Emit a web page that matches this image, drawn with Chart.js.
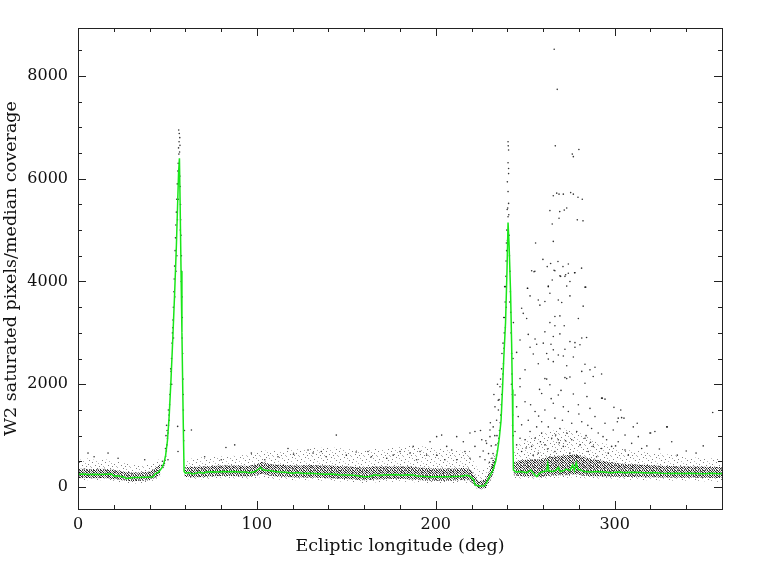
<!DOCTYPE html>
<html>
<head>
<meta charset="utf-8">
<script src="https://cdn.jsdelivr.net/npm/chart.js@4.4.1/dist/chart.umd.min.js"></script>
<style>
  html, body { margin: 0; padding: 0; background: #fff; }
  #wrap { width: 768px; height: 574px; }
</style>
</head>
<body>
<div id="wrap"><canvas id="chart" width="768" height="574"></canvas></div>
<script>
// axis ticks
const xMajor = [0, 100, 200, 300];
const yMajor = [0, 2000, 4000, 6000, 8000];

// running median (green line), ecliptic longitude vs value
const medLon = [0, 3, 6, 9, 12, 15, 18, 19, 20, 22, 24, 26, 27, 29, 31, 34, 37, 40, 42, 43, 44, 45, 46, 47, 48, 49, 50, 51, 52, 53, 54, 55, 55.6, 56.2, 56.7, 57.1, 57.6, 58.1, 58.6, 59.0, 59.3,
  60, 62, 64, 66, 68, 70, 72, 75, 78, 81, 84, 87, 90, 93, 96, 99, 101, 102, 103, 105, 107, 110, 113, 116, 120, 123, 126, 130, 134, 138, 142, 146, 150, 154, 157, 160, 163, 166, 168, 170, 174, 178, 181, 184, 187, 190, 194, 198, 202, 206, 210, 214, 217, 219,
  221, 222, 224, 227, 228, 230, 232, 233.5, 234.5, 235.5, 236.5, 237.3, 238, 239, 239.8, 240.4, 241, 241.8, 242.4, 242.8, 243.1, 243.4,
  245, 247, 249, 251, 253, 255, 256.5, 258, 260, 262, 262.6, 263.2, 265, 267, 268.5, 269.5, 271, 273, 275, 276.5, 277.5, 278.5, 279.5, 281, 283, 286, 290, 294, 298, 302, 306, 310, 314, 318, 322, 326, 330, 334, 338, 342, 346, 350, 354, 358, 360];
const medVal = [250, 255, 245, 250, 245, 250, 255, 250, 215, 220, 205, 190, 165, 175, 185, 185, 190, 195, 200, 250, 270, 290, 330, 380, 460, 620, 900, 1400, 2100, 2900, 3750, 4700, 5400, 6100, 6400, 5500, 4200, 3000, 1800, 900, 300,
  270, 280, 255, 270, 285, 270, 290, 295, 290, 300, 295, 300, 290, 290, 280, 300, 350, 380, 340, 320, 320, 300, 290, 285, 270, 280, 265, 270, 260, 250, 255, 240, 235, 230, 215, 200, 205, 240, 225, 235, 240, 245, 230, 240, 235, 215, 205, 200, 200, 200, 205, 210, 230, 210,
  150, 40, 20, 25, 60, 200, 330, 500, 700, 950, 1300, 1900, 2500, 3200, 4200, 5150, 4700, 3800, 2800, 1900, 1000, 330,
  290, 300, 290, 280, 330, 250, 200, 270, 300, 310, 450, 310, 300, 320, 380, 300, 310, 350, 320, 430, 320, 470, 340, 330, 300, 290, 300, 290, 280, 290, 280, 285, 280, 275, 280, 270, 265, 270, 265, 270, 265, 260, 270, 260, 265];

// dense band of points around the median (dark core and sparser halo)
const bandLon = [0, 5, 10, 15, 20, 25, 30, 35, 40, 44, 46, 52, 59.5, 65, 70, 75, 80, 85, 90, 95, 100, 103, 106, 110, 115, 120, 125, 130, 135, 140, 145, 150, 155, 160, 165, 170, 175, 180, 185, 190, 195, 200, 205, 210, 215, 219, 221, 224, 228, 231, 233, 238, 243.5, 248, 253, 258, 263, 268, 273, 278, 283, 288, 293, 298, 303, 308, 313, 318, 323, 328, 333, 338, 343, 348, 353, 358, 360];
const innerLo = [170, 175, 170, 175, 150, 130, 110, 120, 130, 190, 240, null, 200, 190, 195, 210, 215, 215, 210, 205, 230, 260, 230, 210, 200, 190, 185, 185, 180, 170, 160, 155, 140, 130, 140, 150, 155, 155, 150, 135, 125, 120, 120, 125, 135, 130, 50, -40, -20, 170, 340, null, 230, 210, 210, 190, 220, 230, 230, 250, 220, 210, 210, 200, 200, 195, 195, 190, 190, 185, 185, 180, 185, 180, 180, 175, 180];
const innerHi = [360, 350, 350, 355, 330, 300, 280, 280, 300, 380, 450, null, 390, 390, 400, 410, 420, 420, 420, 410, 450, 490, 460, 440, 430, 420, 420, 430, 420, 420, 410, 400, 390, 380, 400, 400, 400, 400, 400, 380, 370, 360, 360, 360, 370, 360, 260, 100, 160, 400, 620, null, 480, 520, 540, 540, 580, 600, 620, 640, 580, 540, 510, 480, 460, 450, 440, 430, 420, 410, 410, 400, 400, 400, 390, 390, 390];
const outerLo = [120, 130, 130, 130, 110, 80, 60, 80, 90, 140, 180, null, 150, 150, 150, 160, 170, 170, 160, 160, 170, 200, 170, 150, 140, 130, 130, 130, 120, 120, 110, 100, 90, 80, 90, 100, 100, 100, 100, 90, 80, 80, 80, 80, 90, 80, 20, -60, -40, 100, 250, null, 170, 160, 160, 150, 170, 180, 180, 190, 170, 160, 160, 150, 150, 140, 140, 130, 130, 120, 120, 120, 120, 110, 110, 100, 100];
const outerHi = [520, 560, 520, 540, 500, 480, 430, 420, 440, 500, 560, null, 540, 560, 580, 580, 600, 600, 620, 620, 680, 720, 700, 700, 700, 720, 740, 760, 760, 780, 760, 740, 720, 720, 740, 740, 760, 780, 800, 800, 780, 760, 740, 720, 700, 720, 520, 300, 360, 600, 850, null, 720, 900, 1000, 1050, 1100, 1100, 1150, 1100, 1000, 920, 850, 800, 760, 720, 700, 680, 660, 640, 620, 600, 580, 560, 560, 560, 540];

// individual points away from the band: [longitude, value]
const peakDots = [
  [56.3, 6950], [56.6, 6880], [56.9, 6800], [56.5, 6720], [57.0, 6650], [56.2, 6600], [56.8, 6520], [56.4, 6480], [56.0, 6300], [55.8, 6150], [56.9, 6050], [55.5, 5900], [57.1, 5850], [55.2, 5600], [57.3, 5500], [55.0, 5350], [57.4, 5200], [54.7, 5100], [57.6, 4900], [54.5, 4850], [54.3, 4600], [57.8, 4500], [54.0, 4300], [57.9, 4200], [53.8, 4050], [53.6, 3800], [58.1, 3700], [53.3, 3500], [53.1, 3250], [58.3, 3300], [52.8, 3000], [52.6, 2800], [58.5, 2600], [52.3, 2500], [52.0, 2250], [58.7, 2100], [51.7, 2000], [51.4, 1800], [51.2, 1600], [58.9, 1500], [50.9, 1400], [50.6, 1200], [50.3, 1050], [50.0, 950], [49.7, 820], [49.4, 700], [59.1, 900], [49.0, 600], [48.7, 520], [48.3, 460], [47.9, 420], [47.5, 380], [50.5, 1500], [49.2, 1000], [51.8, 2300], [53.0, 3100], [54.8, 4200], [55.6, 5200], [59.5, 1100], [49.5, 1200], [55.7, 1180], [55.9, 690], [50.3, 530],
  [55.3, 4500], [54.1, 3700], [53.4, 2900], [52.4, 2000], [51.0, 1300], [56.1, 5600], [57.2, 5000], [57.7, 4000], [58.2, 2900], [58.8, 1800], [48.9, 750], [49.8, 1100], [46.8, 420], [47.2, 500],
  [240.4, 6720], [240.5, 6640], [240.7, 6560], [240.4, 6310], [240.7, 6200], [240.7, 6100], [240.0, 5940], [240.4, 5750], [240.7, 5520], [240.2, 5430], [240.4, 5260], [239.9, 5400], [240.8, 5300], [239.7, 5000], [241.0, 4900], [239.5, 4750], [241.2, 4500], [239.3, 4400], [239.2, 4100], [241.5, 4200], [239.0, 3900], [238.8, 3600], [241.7, 3800], [238.6, 3300], [241.9, 3400], [238.3, 3000], [238.1, 2700], [242.1, 3000], [237.8, 2400], [237.5, 2200], [242.4, 2600], [237.2, 2000], [236.9, 1800], [242.6, 2200], [236.6, 1600], [236.3, 1400], [242.8, 1800], [236.0, 1250], [235.6, 1100], [243.0, 1400], [235.2, 950], [234.8, 850], [234.4, 700], [233.9, 620], [233.4, 540], [232.8, 480], [232.2, 420], [231.6, 380], [237.0, 2600], [236.2, 2100], [235.0, 1500], [234.0, 1300], [233.0, 1000], [231.0, 800], [238.5, 3900], [239.6, 4600], [238.0, 3300], [234.5, 2000], [229.5, 650], [228.0, 900], [226.5, 700], [225.0, 1100], [230.5, 1250], [232.5, 1800], [243.3, 1000], [243.2, 2500], [243.4, 3200], [234.9, 1690], [233.1, 1560], [235.9, 1950],
  [239.4, 3500], [238.9, 3100], [237.6, 2800], [236.8, 2300], [235.4, 1700], [234.2, 1000], [233.6, 820], [232.0, 650], [231.4, 560], [230.0, 480], [240.1, 4800], [241.3, 3600], [242.3, 2000], [242.9, 1200]
];
const cloudDots = [
  [266.2, 8520], [267.9, 7740], [266.8, 6640], [280.0, 6570], [276.3, 6480], [276.9, 6430], [265.7, 5670], [267.6, 5720], [268.9, 5700], [271.3, 5700], [275.4, 5730], [276.9, 5700], [279.5, 5640], [281.9, 5600], [263.8, 5380], [269.3, 5360], [271.8, 5390], [273.2, 5430], [268.9, 5230], [279.1, 5200], [282.3, 5180], [265.1, 5120], [255.8, 4750], [265.7, 4780],
  [259.9, 4430], [262.3, 4290], [264.2, 4350], [268.3, 4390], [271.1, 4290], [274.1, 4340], [277.6, 4170], [281.5, 4260], [266.1, 4220], [269.8, 4100], [272.6, 4130], [265.1, 4030], [254.9, 4190], [251.2, 3870], [283.8, 3890], [273.2, 3910], [262.9, 3910],
  [253.6, 4210], [255.4, 4200], [266.6, 4210], [269.4, 4110], [272.2, 4100], [274.1, 4160], [277.8, 4170], [275.0, 4000], [283.4, 3890], [262.9, 3900], [251.4, 3870], [263.8, 3770], [252.7, 3720], [275.0, 3720], [257.3, 3640], [261.0, 3610], [268.5, 3640], [270.4, 3590], [258.2, 3540], [282.4, 3520], [248.0, 3480], [248.9, 3380], [250.8, 3280], [266.6, 3320], [269.4, 3330], [279.7, 3280], [263.8, 3200], [266.6, 3140], [271.8, 3140], [261.0, 3020], [251.7, 2970], [269.4, 2980], [265.7, 2930], [281.6, 2900], [284.3, 2910], [275.0, 2830], [277.8, 2810], [247.1, 2860], [255.5, 2880], [256.4, 2780], [260.1, 2800], [264.4, 2780], [252.7, 2720], [265.7, 2670], [272.2, 2680], [277.8, 2720], [280.6, 2770], [245.2, 2620], [262.0, 2600], [268.5, 2570], [271.3, 2550], [254.5, 2590], [276.9, 2530], [283.4, 2390], [262.9, 2490], [265.7, 2440], [257.3, 2400], [273.2, 2360], [289.0, 2330], [292.7, 2200], [249.9, 2280], [261.0, 2110], [275.0, 2140], [286.2, 2280], [281.6, 2250], [247.1, 2110], [273.2, 2110],
  [262.0, 2100], [272.2, 2130], [288.0, 2150], [263.8, 1990], [283.4, 2020], [247.1, 1950], [244.3, 1790], [259.2, 1820], [268.5, 1790], [276.9, 1810], [292.7, 1730], [294.6, 1710], [249.9, 1660], [265.7, 1630], [279.7, 1600], [271.3, 1560], [286.2, 1530], [245.2, 1560], [255.5, 1470], [261.0, 1500], [274.1, 1470], [302.0, 1340], [303.9, 1350], [289.0, 1370], [246.1, 1370], [251.7, 1300], [259.2, 1270], [266.6, 1340], [281.6, 1270], [276.0, 1240], [294.6, 1240], [310.4, 1170], [248.0, 1210], [256.4, 1170], [262.9, 1170], [269.4, 1140], [287.1, 1140], [299.2, 1110], [244.3, 1080], [252.7, 1080], [259.2, 1050], [273.2, 1050], [278.8, 1080], [290.8, 1050], [305.8, 1010], [313.2, 980],
  [247.1, 950], [249.9, 920], [255.5, 950], [264.8, 950], [268.5, 920], [276.0, 920], [283.4, 950], [295.5, 920], [302.0, 880], [309.5, 850], [245.2, 820], [253.6, 790], [261.0, 820], [271.3, 790], [280.6, 820], [288.0, 790], [292.7, 750], [298.3, 790], [305.8, 720], [315.1, 750], [248.0, 690], [257.3, 660], [266.6, 690], [275.0, 660], [285.2, 690], [296.4, 660], [307.6, 620], [254.5, 620], [263.8, 590], [278.8, 590], [289.9, 590],
  [258.0, 1900], [264.5, 1720], [270.0, 1880], [284.5, 1760], [253.0, 1600], [257.5, 1380], [270.8, 1300], [280.0, 1420], [285.0, 1200], [267.0, 1010], [258.5, 880], [272.5, 900], [284.0, 1000], [293.5, 980], [250.5, 760], [262.5, 740], [269.0, 860], [286.5, 870], [300.5, 800],
  [329.4, 1170], [320.1, 1050], [312.6, 1240], [305.2, 1340], [301.5, 1270], [293.1, 1730], [299.6, 1550], [303.4, 1500], [354.8, 1450], [329.1, 1170], [322.5, 1080], [319.7, 1050], [331.9, 880], [349.5, 800], [340.0, 700], [345.5, 660], [335.0, 620], [325.0, 740], [318.0, 800]
];
const fieldDots = [
  [200.5, 980], [203.3, 1010], [219.1, 1050], [221.9, 1080], [196.8, 880], [211.7, 980], [215.4, 880], [187.4, 790], [191.2, 690], [206.1, 790], [208.9, 720], [225.7, 920], [228.4, 850], [230.3, 980], [230.3, 1110], [232.1, 1170], [180.0, 690], [176.2, 620], [185.6, 660], [194.9, 620], [200.5, 620], [216.3, 690], [221.9, 790], [224.7, 590], [227.5, 530], [219.1, 560], [172.6, 560], [189.3, 530], [205.1, 530], [211.7, 530],
  [128.6, 720], [131.4, 660], [136.0, 690], [138.8, 590], [117.4, 750], [162.1, 690], [164.0, 590], [96.9, 660], [87.6, 820], [82.7, 770], [63.4, 1110], [5.6, 660], [16.8, 660], [22.4, 560], [37.3, 530], [70.8, 590], [80.1, 530], [111.8, 590], [104.4, 530], [144.4, 1010], [150.0, 620], [155.5, 680], [120.5, 640], [9.0, 590]
];

function pts(xs, ys) {
  return xs.map((x, i) => ({ x: x, y: ys[i] }));
}
function pairs(list) {
  return list.map(p => ({ x: p[0], y: p[1] }));
}

// stipple fills so the band looks like a cloud of dots, not a solid strip
function stipple(w, h, dots, shade) {
  const c = document.createElement('canvas');
  c.width = w; c.height = h;
  const g = c.getContext('2d');
  dots.forEach(d => {
    g.fillStyle = 'rgba(0,0,0,' + (d[2] || shade) + ')';
    g.fillRect(d[0], d[1], 1, 1);
  });
  return g.createPattern(c, 'repeat');
}
const coreFill = stipple(7, 5, [
  [0,0,0.9],[2,0,0.5],[3,0,0.9],[5,0,0.7],[1,1,0.8],[4,1,0.9],[6,1,0.4],[2,1,0.3],
  [0,2,0.5],[2,2,0.9],[3,2,0.6],[5,2,0.9],[1,3,0.9],[4,3,0.5],[6,3,0.8],[3,3,0.3],
  [0,4,0.4],[2,4,0.8],[5,4,0.6],[6,4,0.3]
], 0.8);
const haloFill = stipple(13, 11, [
  [1,0],[7,1,0.3],[10,2],[4,3],[12,4,0.3],[0,5,0.3],[6,6],[9,7,0.35],[2,8],[11,9],[5,10,0.3],[8,4]
], 0.5);

const FONT = "'DejaVu Serif', 'Liberation Serif', serif";

// frame with inward ticks on all four sides
const frameTicks = {
  id: 'frameTicks',
  afterDraw(chart) {
    const ctx = chart.ctx;
    const a = chart.chartArea;
    const xs = chart.scales.x;
    const ys = chart.scales.y;
    ctx.save();
    ctx.strokeStyle = '#222';
    ctx.lineWidth = 1;
    ctx.strokeRect(a.left + 0.5, a.top + 0.5, a.right - a.left, a.bottom - a.top);
    ctx.beginPath();
    for (let v = 0; v <= 360; v += 20) {
      const px = Math.round(xs.getPixelForValue(v)) + 0.5;
      const len = xMajor.includes(v) ? 8 : 4;
      ctx.moveTo(px, a.bottom); ctx.lineTo(px, a.bottom - len);
      ctx.moveTo(px, a.top); ctx.lineTo(px, a.top + len);
    }
    for (let v = 0; v <= 8500; v += 500) {
      const py = Math.round(ys.getPixelForValue(v)) + 0.5;
      const len = yMajor.includes(v) ? 8 : 4;
      ctx.moveTo(a.left, py); ctx.lineTo(a.left + len, py);
      ctx.moveTo(a.right, py); ctx.lineTo(a.right - len, py);
    }
    ctx.stroke();
    ctx.restore();
  }
};

new Chart(document.getElementById('chart'), {
  type: 'line',
  data: {
    datasets: [
      {
        data: pts(medLon, medVal), borderColor: '#19e619', borderWidth: 1.5,
        pointRadius: 0, fill: false, order: 0, tension: 0
      },
      {
        data: pairs(peakDots.concat(cloudDots, fieldDots)), showLine: false,
        pointRadius: 0.8, pointBorderWidth: 0, pointBackgroundColor: 'rgba(0,0,0,0.8)', order: 1
      },
      {
        data: pts(bandLon, innerLo), borderColor: 'transparent', borderWidth: 0,
        pointRadius: 0, fill: false, order: 2
      },
      {
        data: pts(bandLon, innerHi), borderColor: 'transparent', borderWidth: 0,
        pointRadius: 0, fill: '-1', backgroundColor: coreFill, order: 2
      },
      {
        data: pts(bandLon, outerLo), borderColor: 'transparent', borderWidth: 0,
        pointRadius: 0, fill: false, order: 3
      },
      {
        data: pts(bandLon, outerHi), borderColor: 'transparent', borderWidth: 0,
        pointRadius: 0, fill: '-1', backgroundColor: haloFill, order: 3
      }
    ]
  },
  options: {
    responsive: false,
    animation: false,
    layout: { padding: { top: 28, right: 46, left: 0, bottom: 0 } },
    plugins: { legend: { display: false }, tooltip: { enabled: false } },
    scales: {
      x: {
        type: 'linear', min: 0, max: 360,
        grid: { display: false, drawTicks: false },
        border: { display: false },
        afterBuildTicks: s => { s.ticks = xMajor.map(v => ({ value: v })); },
        afterFit: s => { s.height = 65; },
        ticks: { color: '#111', padding: 6, maxRotation: 0, font: { family: FONT, size: 16 }, callback: v => String(v) },
        title: {
          display: true, text: 'Ecliptic longitude (deg)', color: '#111',
          padding: { top: 0, bottom: 17 }, font: { family: FONT, size: 17.5 }
        }
      },
      y: {
        type: 'linear', min: -428, max: 8934,
        grid: { display: false, drawTicks: false },
        border: { display: false },
        afterBuildTicks: s => { s.ticks = yMajor.map(v => ({ value: v })); },
        afterFit: s => { s.width = 78; },
        ticks: { color: '#111', padding: 10, font: { family: FONT, size: 16 }, callback: v => String(v) },
        title: {
          display: true, text: 'W2 saturated pixels/median coverage', color: '#111',
          padding: { top: 1, bottom: 0 }, font: { family: FONT, size: 17.5 }
        }
      }
    }
  },
  plugins: [frameTicks]
});
</script>
</body>
</html>
